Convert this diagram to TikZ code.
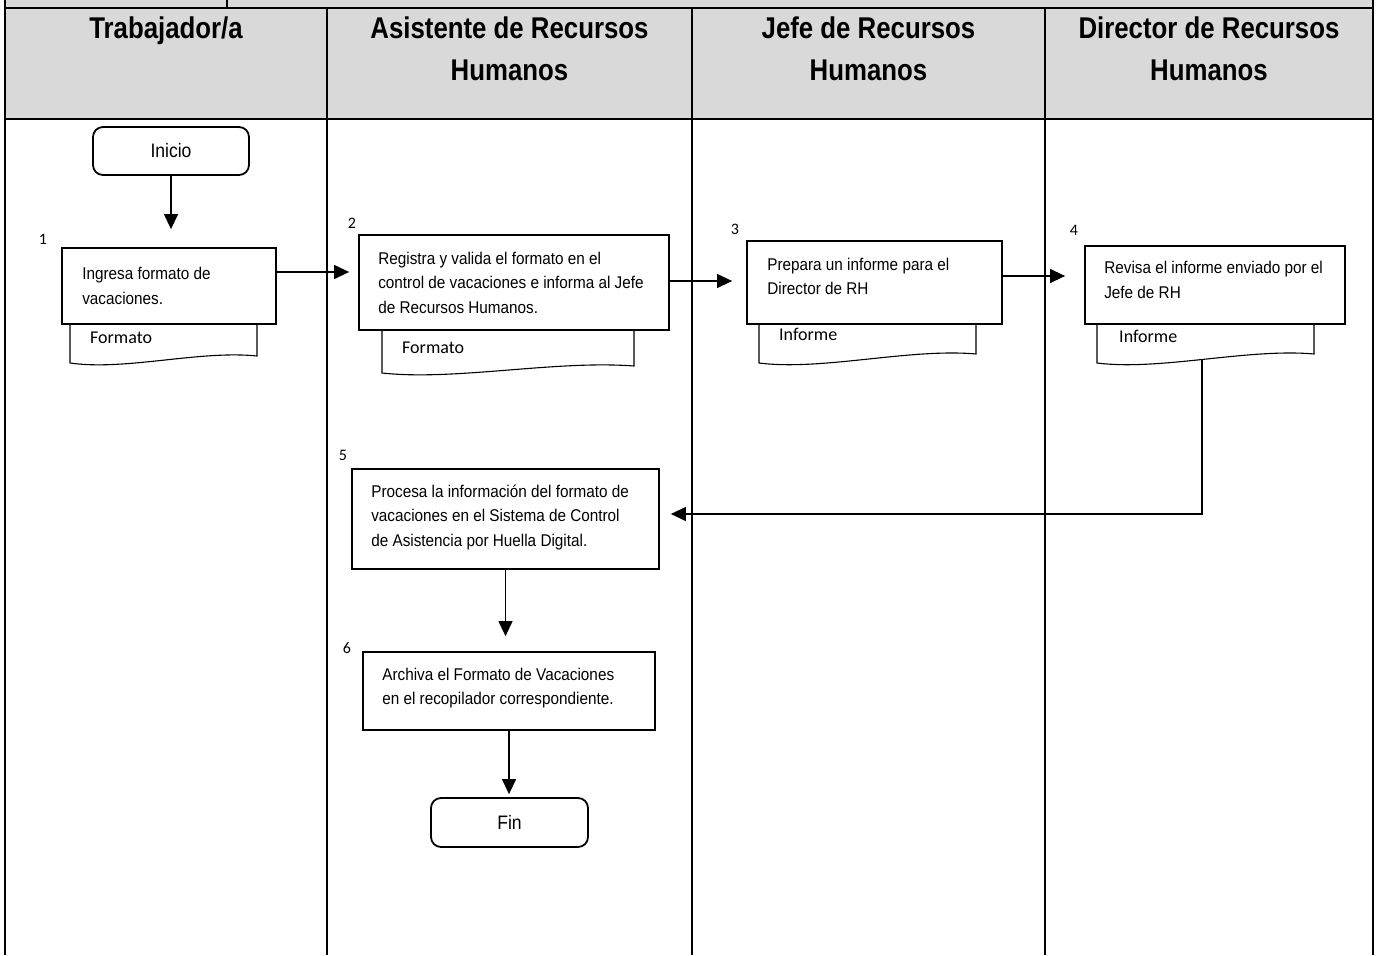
\documentclass[tikz,border=0pt]{standalone}
\usepackage{fontspec}
\setmainfont[FakeStretch=0.9]{Liberation Sans}
\newfontfamily\hdfont[FakeStretch=0.86]{Liberation Sans}
\newfontfamily\calfont{Carlito}
\usetikzlibrary{arrows.meta,calc}
\definecolor{hdrgray}{HTML}{D9D9D9}
\begin{document}
\begin{tikzpicture}[x=1pt,y=-1pt,
 lane/.style={line width=2.4pt},
 pbox/.style={draw, line width=1.8pt, fill=white, inner sep=0pt},
 ptext/.style={align=left, inner sep=0pt, font=\fontsize{17}{24.5}\selectfont, anchor=west},
 term/.style={draw, line width=1.8pt, rounded corners=10pt, minimum width=156pt, minimum height=48pt, font=\fontsize{19.5}{22}\selectfont, inner sep=0pt},
 docshape/.style={draw, line width=1.1pt, fill=white},
 doctext/.style={font=\calfont\fontsize{18}{20}\selectfont, anchor=base west, inner sep=0pt},
 num/.style={font=\calfont\fontsize{16}{18}\selectfont, inner sep=0pt},
 arr/.style={line width=1.3pt, -{Triangle[length=15pt,width=14pt]}},
 hdr/.style={font=\hdfont\bfseries\fontsize{30}{42}\selectfont, align=center, anchor=base, inner sep=0pt}
]
\useasboundingbox (0,0) rectangle (1380,955);
% header background and lane grid
\fill[hdrgray] (5,0) rectangle (1373,119);
\draw[lane] (5,8) -- (1373,8);
\draw[lane] (5,119) -- (1373,119);
\draw[lane] (5,0) -- (5,955);
\draw[lane] (1373,0) -- (1373,955);
\draw[lane] (227,0) -- (227,8);
\draw[lane] (327,8) -- (327,955);
\draw[lane] (692,8) -- (692,955);
\draw[lane] (1045,8) -- (1045,955);
% headers (base anchor = baseline of the last line)
\node[hdr] (h1) at (166,39) {Trabajador/a};
\node[hdr] (h2) at (509.5,81) {Asistente de Recursos\\Humanos};
\node[hdr] (h3) at (868.5,81) {Jefe de Recursos\\Humanos};
\node[hdr] (h4) at (1209,81) {Director de Recursos\\Humanos};
% documents
\draw[docshape] (70,320) -- (70,363) .. controls (125,371) and (200,350) .. (257,356) -- (257,320);
\draw[docshape] (382,326) -- (382,373) .. controls (455,381) and (555,360) .. (634,366) -- (634,326);
\draw[docshape] (759,320) -- (759,363) .. controls (822,371) and (910,348) .. (976,354) -- (976,320);
\draw[docshape] (1097,320) -- (1097,363) .. controls (1160,371) and (1248,348) .. (1314,354) -- (1314,320);
\node[doctext] (d1) at (90,343) {Formato};
\node[doctext] (d2) at (402,353) {Formato};
\node[doctext] (d3) at (779,340) {Informe};
\node[doctext] (d4) at (1119,342) {Informe};
\coordinate (d4b) at (1202,360);
% terminals
\node[term] (ini) at (171,151) {Inicio};
\node[term, minimum width=157pt, minimum height=49pt] (fin) at (509.5,822.5) {Fin};
% process boxes
\node[pbox, minimum width=214pt, minimum height=76pt] (p1) at (169,286) {};
\node[pbox, minimum width=310pt, minimum height=95pt] (p2) at (514,282.5) {};
\node[pbox, minimum width=255pt, minimum height=83pt] (p3) at (874.5,282.5) {};
\node[pbox, minimum width=260pt, minimum height=78pt] (p4) at (1215,285) {};
\node[pbox, minimum width=307pt, minimum height=100pt] (p5) at (505.5,519) {};
\node[pbox, minimum width=292pt, minimum height=78pt] (p6) at (509,691) {};
\node[ptext] (t1) at ([xshift=21pt]p1.west) {Ingresa formato de\\vacaciones.};
\node[ptext] (t2) at ([xshift=20pt]p2.west) {Registra y valida el formato en el\\control de vacaciones e informa al Jefe\\de Recursos Humanos.};
\node[ptext] (t3) at ([xshift=21pt,yshift=6pt]p3.west) {Prepara un informe para el\\Director de RH};
\node[ptext] (t4) at ([xshift=20pt,yshift=5pt]p4.west) {Revisa el informe enviado por el\\Jefe de RH};
\node[ptext] (t5) at ([xshift=20pt,yshift=2pt]p5.west) {Procesa la información del formato de\\vacaciones en el Sistema de Control\\de Asistencia por Huella Digital.};
\node[ptext] (t6) at ([xshift=20pt,yshift=3pt]p6.west) {Archiva el Formato de Vacaciones\\en el recopilador correspondiente.};
% step numbers
\node[num] (n1) at (43,239) {1};
\node[num] (n2) at (352,223) {2};
\node[num] (n3) at (735,229) {3};
\node[num] (n4) at (1074,230) {4};
\node[num] (n5) at (343,455) {5};
\node[num] (n6) at (347,648) {6};
% connectors
\draw[arr, shorten >=18pt] (ini.south) -- (ini.south |- p1.north);
\draw[arr, shorten >=9pt] (p1.east |- 0,272) -- (p2.west |- 0,272);
\draw[arr, shorten >=14pt] (p2.east |- 0,281) -- (p3.west |- 0,281);
\draw[arr, shorten >=19pt] (p3.east |- 0,276) -- (p4.west |- 0,276);
\draw[arr, shorten >=11pt] (d4b) |- ([yshift=5pt]p5.east);
\draw[arr, shorten >=15pt] (p5.south) -- (p5.south |- p6.north);
\draw[arr, shorten >=3pt] (p6.south) -- (p6.south |- fin.north);
\end{tikzpicture}
\end{document}
